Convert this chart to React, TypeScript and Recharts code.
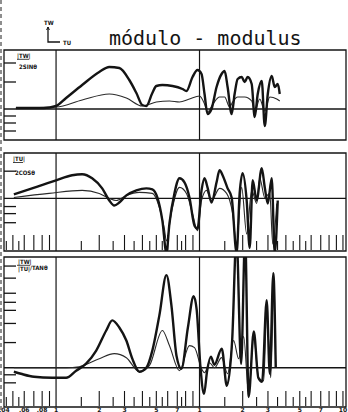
import React from 'react';
import { LineChart, Line, XAxis, YAxis, ReferenceLine, ReferenceArea } from 'recharts';

const INK = '#141414';
const THIN_INK = '#2a2a2a';

// frequency axis (log), framed from ~0.0434 to 10.5
const FREQ_DOMAIN: [number, number] = [0.04336, 10.5];
const DECADE_LINES = [0.1, 1];
const WHOLE_MINOR_TICKS = [0.05, 0.06, 0.07, 0.08, 0.09, 0.2, 0.3, 0.4, 0.5, 0.6, 0.7, 0.8, 0.9, 2, 3, 4, 5, 6, 7, 8, 9, 10];
const HALF_MINOR_TICKS = [0.045, 0.055, 0.15, 0.25, 0.35, 0.45, 0.55, 0.75, 1.5, 2.5, 3.5, 4.5, 5.5];
const MINOR_TICKS = [...HALF_MINOR_TICKS, ...WHOLE_MINOR_TICKS].sort((a, b) => a - b);
const FREQ_LABEL_TICKS = [0.04, 0.06, 0.08, 0.1, 0.2, 0.3, 0.5, 0.7, 1, 2, 3, 5, 7, 10];
const FREQ_LABELS = ['.04', '.06', '.08', '1', '2', '3', '5', '7', '1', '2', '3', '5', '7', '10'];

// Panel 1: |TW| / 2 sin θ
const p1Domain: [number, number] = [-3.1, 5.9];
const p1Ticks = [4.6, 2.7, -0.7, -1.4, -2.2];
const p1Thick = [
  { f: 0.0525, v: 0.1 }, { f: 0.065, v: 0.1 }, { f: 0.082, v: 0.1 }, { f: 0.1, v: 0.3 },
  { f: 0.1175, v: 1.1 }, { f: 0.152, v: 2.4 }, { f: 0.2, v: 3.7 }, { f: 0.235, v: 4.2 },
  { f: 0.276, v: 4.1 }, { f: 0.324, v: 2.9 }, { f: 0.363, v: 1.6 }, { f: 0.399, v: 0.4 },
  { f: 0.426, v: 0.3 }, { f: 0.469, v: 1.6 }, { f: 0.5, v: 2.3 }, { f: 0.551, v: 2.4 },
  { f: 0.648, v: 2.3 }, { f: 0.761, v: 2.0 }, { f: 0.811, v: 1.8 }, { f: 0.894, v: 3.2 },
  { f: 0.968, v: 3.9 }, { f: 1.033, v: 3.5 }, { f: 1.084, v: 1.5 }, { f: 1.137, v: -0.5 },
  { f: 1.213, v: 0.0 }, { f: 1.315, v: 2.2 }, { f: 1.425, v: 3.5 }, { f: 1.496, v: 3.8 },
  { f: 1.57, v: 2.2 }, { f: 1.675, v: -0.5 }, { f: 1.757, v: 1.5 }, { f: 1.845, v: 3.0 },
  { f: 1.967, v: 3.2 }, { f: 2.064, v: 2.7 }, { f: 2.167, v: 3.2 }, { f: 2.311, v: 2.5 },
  { f: 2.425, v: -0.8 }, { f: 2.546, v: 1.5 }, { f: 2.715, v: 2.8 }, { f: 2.85, v: -1.7 },
  { f: 2.992, v: 1.5 }, { f: 3.187, v: 3.3 }, { f: 3.345, v: 2.2 }, { f: 3.511, v: 2.5 },
  { f: 3.625, v: 1.5 },
];
const p1Thin = [
  { f: 0.0525, v: 0.1 }, { f: 0.1, v: 0.2 }, { f: 0.152, v: 0.9 }, { f: 0.235, v: 1.5 },
  { f: 0.309, v: 1.1 }, { f: 0.399, v: 0.3 }, { f: 0.5, v: 0.7 }, { f: 0.617, v: 0.8 },
  { f: 0.725, v: 0.7 }, { f: 0.851, v: 1.0 }, { f: 1.0, v: 1.3 }, { f: 1.084, v: 0.5 },
  { f: 1.137, v: -0.3 }, { f: 1.24, v: 0.5 }, { f: 1.38, v: 1.2 }, { f: 1.496, v: 1.2 },
  { f: 1.621, v: 0.2 }, { f: 1.702, v: 0.7 }, { f: 1.845, v: 1.2 }, { f: 2.064, v: 1.2 },
  { f: 2.311, v: 0.8 }, { f: 2.425, v: -0.3 }, { f: 2.629, v: 1.0 }, { f: 2.85, v: -0.2 },
  { f: 3.09, v: 1.2 }, { f: 3.455, v: 1.0 }, { f: 3.625, v: 0.8 },
];

// Panel 2: |TU| / 2 cos θ
const p2Domain: [number, number] = [-5.2, 4.5];
const p2Ticks = [2.7, -0.8, -1.5, -2.4];
const p2Thick = [
  { f: 0.0508, v: 0.4 }, { f: 0.0648, v: 0.9 }, { f: 0.0824, v: 1.4 }, { f: 0.1, v: 1.8 },
  { f: 0.1294, v: 2.3 }, { f: 0.152, v: 2.4 }, { f: 0.1785, v: 2.0 }, { f: 0.2097, v: 1.0 },
  { f: 0.235, v: -0.2 }, { f: 0.2544, v: -0.7 }, { f: 0.276, v: -0.4 }, { f: 0.309, v: 0.3 },
  { f: 0.363, v: 0.8 }, { f: 0.426, v: 1.0 }, { f: 0.469, v: 0.9 }, { f: 0.508, v: 0.1 },
  { f: 0.551, v: -2.2 }, { f: 0.588, v: -5.4 }, { f: 0.617, v: -2.5 }, { f: 0.6685, v: 0.5 },
  { f: 0.725, v: 2.0 }, { f: 0.7855, v: 1.6 }, { f: 0.851, v: 0.1 }, { f: 0.923, v: -2.7 },
  { f: 0.968, v: -3.0 }, { f: 1.033, v: 0.8 }, { f: 1.084, v: 2.0 }, { f: 1.137, v: 1.1 },
  { f: 1.213, v: -0.4 }, { f: 1.315, v: 1.6 }, { f: 1.38, v: 2.8 }, { f: 1.448, v: 2.3 },
  { f: 1.57, v: 1.0 }, { f: 1.675, v: 0.1 }, { f: 1.814, v: -5.4 }, { f: 1.905, v: 0.5 },
  { f: 1.998, v: 2.5 }, { f: 2.132, v: -0.2 }, { f: 2.238, v: -4.9 }, { f: 2.348, v: 1.8 },
  { f: 2.503, v: -0.2 }, { f: 2.715, v: 3.0 }, { f: 2.85, v: 1.1 }, { f: 2.992, v: -0.5 },
  { f: 3.187, v: 2.0 }, { f: 3.345, v: -5.4 }, { f: 3.511, v: -0.2 },
];
const p2Thin = [
  { f: 0.0508, v: 0.1 }, { f: 0.0894, v: 0.5 }, { f: 0.152, v: 0.8 }, { f: 0.2, v: 0.5 },
  { f: 0.235, v: 0.0 }, { f: 0.263, v: -0.2 }, { f: 0.309, v: 0.3 }, { f: 0.3806, v: 0.6 },
  { f: 0.469, v: 0.5 }, { f: 0.525, v: -0.9 }, { f: 0.569, v: -3.0 }, { f: 0.588, v: -4.2 },
  { f: 0.637, v: -1.4 }, { f: 0.725, v: 1.1 }, { f: 0.811, v: 0.5 }, { f: 0.894, v: -1.5 },
  { f: 0.968, v: -3.2 }, { f: 1.033, v: -0.2 }, { f: 1.119, v: 0.8 }, { f: 1.213, v: -0.2 },
  { f: 1.38, v: 1.0 }, { f: 1.545, v: 0.5 }, { f: 1.702, v: -1.5 }, { f: 1.814, v: -4.5 },
  { f: 1.967, v: 1.1 }, { f: 2.132, v: -3.5 }, { f: 2.311, v: 0.8 }, { f: 2.503, v: -0.5 },
  { f: 2.629, v: 2.0 }, { f: 2.85, v: 0.1 }, { f: 3.09, v: 0.5 }, { f: 3.24, v: -4.5 },
  { f: 3.455, v: -0.5 },
];

// Panel 3: (|TW| / |TU|) / tan θ
const p3Domain: [number, number] = [-3.9, 11.0];
const p3Ticks = [10.1, 8.9, 7.4, 6.5, 5.7, 4.4, 2.5, -0.7, -1.5];
const p3Thick = [
  { f: 0.0508, v: -0.4 }, { f: 0.0569, v: -0.6 }, { f: 0.0702, v: -0.9 }, { f: 0.0938, v: -1.0 },
  { f: 0.1175, v: -1.0 }, { f: 0.138, v: -0.3 }, { f: 0.162, v: 0.4 }, { f: 0.1905, v: 1.7 },
  { f: 0.2237, v: 3.7 }, { f: 0.2465, v: 4.7 }, { f: 0.276, v: 4.0 }, { f: 0.309, v: 2.7 },
  { f: 0.34, v: 0.9 }, { f: 0.3806, v: -0.4 }, { f: 0.426, v: 0.0 }, { f: 0.469, v: 1.7 },
  { f: 0.525, v: 5.2 }, { f: 0.588, v: 9.2 }, { f: 0.637, v: 6.2 }, { f: 0.691, v: 1.2 },
  { f: 0.748, v: -0.1 }, { f: 0.83, v: 4.0 }, { f: 0.91, v: 7.1 }, { f: 0.955, v: 5.8 },
  { f: 1.016, v: 0.0 }, { f: 1.075, v: -2.6 }, { f: 1.13, v: -0.3 }, { f: 1.2, v: 1.1 },
  { f: 1.27, v: 0.3 }, { f: 1.43, v: 1.9 }, { f: 1.55, v: -1.8 }, { f: 1.69, v: 2.8 },
  { f: 1.81, v: 13 }, { f: 1.95, v: 0.4 }, { f: 2.08, v: 13 }, { f: 2.2, v: -2.9 },
  { f: 2.39, v: 3.6 }, { f: 2.57, v: -1.0 }, { f: 2.73, v: -1.4 }, { f: 2.94, v: 6.7 },
  { f: 3.09, v: -0.6 }, { f: 3.27, v: 9.4 }, { f: 3.4, v: 0.0 },
];
const p3Thin = [
  { f: 0.0508, v: 0.0 }, { f: 0.1175, v: 0.0 }, { f: 0.1448, v: 0.1 }, { f: 0.2, v: 0.9 },
  { f: 0.2544, v: 1.4 }, { f: 0.309, v: 1.0 }, { f: 0.3806, v: -0.4 }, { f: 0.447, v: 0.2 },
  { f: 0.551, v: 3.7 }, { f: 0.617, v: 2.2 }, { f: 0.725, v: -0.3 }, { f: 0.851, v: 2.2 },
  { f: 0.923, v: 2.0 }, { f: 1.033, v: -0.1 }, { f: 1.084, v: -0.5 }, { f: 1.175, v: 0.5 },
  { f: 1.273, v: 0.0 }, { f: 1.425, v: 1.0 }, { f: 1.57, v: -0.6 }, { f: 1.729, v: 2.7 },
  { f: 1.874, v: 0.9 }, { f: 2.031, v: 3.1 }, { f: 2.201, v: -2.6 }, { f: 2.386, v: 3.0 },
  { f: 2.586, v: -1.0 }, { f: 2.803, v: -1.3 }, { f: 2.941, v: 5.7 }, { f: 3.136, v: -1.0 },
  { f: 3.293, v: 7.4 }, { f: 3.4, v: 0.0 },
];

type PanelCfg = {
  top: number;
  plotHeight: number;
  domain: [number, number];
  ticks: number[];
  thick: { f: number; v: number }[];
  thin: { f: number; v: number }[];
  minor: boolean;
  labels: boolean;
};

const PANELS: PanelCfg[] = [
  { top: 50, plotHeight: 90, domain: p1Domain, ticks: p1Ticks, thick: p1Thick, thin: p1Thin, minor: false, labels: false },
  { top: 153, plotHeight: 97, domain: p2Domain, ticks: p2Ticks, thick: p2Thick, thin: p2Thin, minor: true, labels: false },
  { top: 257, plotHeight: 149, domain: p3Domain, ticks: p3Ticks, thick: p3Thick, thin: p3Thin, minor: true, labels: true },
];

const LeftTick = (props: any) => (
  <line x1={props.x} x2={props.x + 12} y1={props.y} y2={props.y} stroke={INK} strokeWidth={1.3} />
);

const MinorTick = (props: any) => {
  const v = props.payload?.value;
  const len = HALF_MINOR_TICKS.includes(v) ? 9 : 15;
  const y0 = props.y - 1;
  return <line x1={props.x} x2={props.x} y1={y0} y2={y0 - len} stroke={INK} strokeWidth={1.1} />;
};

const FreqLabel = (props: any) => {
  const v = props.payload?.value;
  const idx = FREQ_LABEL_TICKS.indexOf(v);
  const label = FREQ_LABELS[idx] ?? '';
  return (
    <text
      x={props.x} y={props.y + 4.6} textAnchor={idx === 0 ? 'start' : 'middle'}
      fontFamily="DejaVu Sans" fontWeight={700} fontSize={6} fill={INK}
    >
      {label}
    </text>
  );
};

function Panel({ cfg }: { cfg: PanelCfg }) {
  const axesH = (cfg.minor ? 1 : 0) + (cfg.labels ? 12 : 0);
  const mb = cfg.labels ? 0 : 2;
  const height = 2 + cfg.plotHeight + axesH + mb;
  return (
    <div style={{ position: 'absolute', left: 0, top: cfg.top - 2 }}>
      <LineChart width={348} height={height} margin={{ top: 2, right: 2, bottom: mb, left: 4 }}>
        <XAxis
          xAxisId="main" type="number" dataKey="f" scale="log" domain={FREQ_DOMAIN} allowDataOverflow
          hide={!cfg.minor} height={1} mirror ticks={MINOR_TICKS} interval={0} tick={MinorTick}
          axisLine={false} tickLine={false} tickSize={0} tickMargin={0}
        />
        {cfg.labels && (
          <XAxis
            xAxisId="lab" type="number" dataKey="f" scale="log" domain={FREQ_DOMAIN} allowDataOverflow
            height={12} ticks={FREQ_LABEL_TICKS} interval={0} tickLine={false} axisLine={false}
            tickSize={0} tickMargin={0} tick={FreqLabel}
          />
        )}
        <YAxis
          yAxisId="v" type="number" domain={cfg.domain} allowDataOverflow width={1} mirror
          ticks={cfg.ticks} interval={0} tick={LeftTick} axisLine={false} tickLine={false}
          tickSize={0} tickMargin={0}
        />
        <ReferenceArea
          xAxisId="main" yAxisId="v" x1={FREQ_DOMAIN[0]} x2={FREQ_DOMAIN[1]} y1={cfg.domain[0]} y2={cfg.domain[1]}
          fill="none" fillOpacity={0} stroke={INK} strokeWidth={1.3} strokeOpacity={1}
        />
        {DECADE_LINES.map((d) => (
          <ReferenceLine key={d} xAxisId="main" yAxisId="v" x={d} stroke={INK} strokeWidth={1.2} />
        ))}
        <ReferenceLine xAxisId="main" yAxisId="v" y={0} stroke={INK} strokeWidth={1.3} />
        <Line
          xAxisId="main" yAxisId="v" data={cfg.thin} dataKey="v" type="monotone"
          stroke={THIN_INK} strokeWidth={1.1} dot={false} isAnimationActive={false}
        />
        <Line
          xAxisId="main" yAxisId="v" data={cfg.thick} dataKey="v" type="monotone"
          stroke={INK} strokeWidth={2.4} dot={false} isAnimationActive={false}
        />
      </LineChart>
    </div>
  );
}

export default function App() {
  const small = { fontFamily: 'DejaVu Sans Condensed, DejaVu Sans', fontWeight: 700, fontSize: 6, fill: INK } as const;
  return (
    <div style={{ position: 'absolute', left: 0, top: 0, width: 348, height: 412, overflow: 'hidden', background: '#fff' }}>
      {PANELS.map((p, i) => (
        <Panel key={i} cfg={p} />
      ))}
      <svg width={348} height={412} style={{ position: 'absolute', left: 0, top: 0, pointerEvents: 'none' }}>
        <line x1={1} y1={0} x2={1} y2={412} stroke="#444" strokeWidth={1.2} strokeDasharray="4 3" />
        <text x={109} y={45} fontFamily="DejaVu Sans Mono" fontSize={20} fill={INK}>módulo - modulus</text>
        <text x={44} y={25} {...small}>TW</text>
        <path d="M48 27 V42 H60" fill="none" stroke={INK} strokeWidth={1.3} />
        <path d="M46.6 30 L48 27 L49.4 30" fill="none" stroke={INK} strokeWidth={1} />
        <text x={63} y={45} {...small}>TU</text>

        <text x={17} y={58} {...small}>|TW|</text>
        <line x1={17} x2={29} y1={59.3} y2={59.3} stroke={INK} strokeWidth={0.8} />
        <text x={19} y={69} {...small}>2SINθ</text>

        <text x={13} y={161} {...small}>|TU|</text>
        <line x1={13} x2={23} y1={162.5} y2={162.5} stroke={INK} strokeWidth={0.8} />
        <text x={15} y={175} {...small}>2COSθ</text>

        <text x={18} y={264} {...small}>|TW|</text>
        <line x1={17} x2={30} y1={265.3} y2={265.3} stroke={INK} strokeWidth={0.8} />
        <text x={18} y={271} {...small}>|TU|</text>
        <text x={30} y={270} {...small}>/TANθ</text>
      </svg>
    </div>
  );
}
